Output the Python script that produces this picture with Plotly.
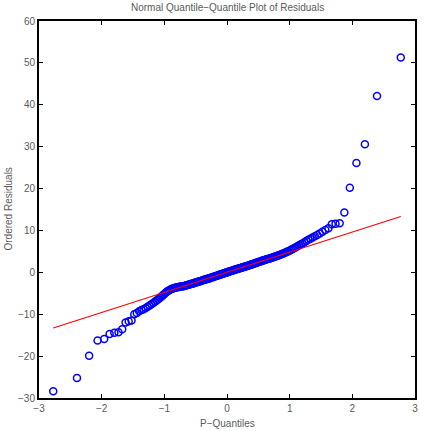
import numpy as np
import plotly.graph_objects as go
from statistics import NormalDist

# Sorted (ordered) residuals
residuals = [
    -28.4, -25.2, -19.9, -16.3, -15.9, -14.7, -14.4, -14.3, -13.6, -12.0,
    -11.7, -11.5, -10.0, -9.7, -9.3, -9.0, -8.8, -8.5, -8.2, -7.9,
    -7.6, -7.3, -7.0, -6.7, -6.4, -6.1, -5.8, -5.5, -5.2, -4.9,
    -4.6, -4.4, -4.2, -4.0, -3.9, -3.8, -3.7, -3.6, -3.55, -3.5,
    -3.45, -3.4, -3.35, -3.3, -3.25, -3.2, -3.1, -3.0, -2.95, -2.9,
    -2.8, -2.75, -2.7, -2.6, -2.5, -2.45, -2.35, -2.3, -2.2, -2.15,
    -2.1, -2.0, -1.95, -1.85, -1.8, -1.7, -1.65, -1.6, -1.5, -1.45,
    -1.4, -1.3, -1.25, -1.15, -1.1, -1.0, -0.95, -0.9, -0.8, -0.75,
    -0.65, -0.6, -0.5, -0.45, -0.4, -0.3, -0.25, -0.15, -0.1, -0.05,
    0.05, 0.1, 0.2, 0.25, 0.3, 0.4, 0.45, 0.5, 0.6, 0.65,
    0.7, 0.8, 0.85, 0.9, 1.0, 1.05, 1.1, 1.2, 1.25, 1.3,
    1.4, 1.45, 1.5, 1.6, 1.65, 1.75, 1.8, 1.9, 1.95, 2.05,
    2.1, 2.2, 2.3, 2.35, 2.45, 2.5, 2.6, 2.7, 2.8, 2.85,
    2.95, 3.0, 3.1, 3.2, 3.25, 3.3, 3.4, 3.5, 3.6, 3.7,
    3.8, 3.9, 4.0, 4.1, 4.2, 4.35, 4.45, 4.6, 4.75, 4.9,
    5.05, 5.2, 5.4, 5.6, 5.8, 6.0, 6.2, 6.45, 6.7, 6.9,
    7.2, 7.5, 7.8, 8.0, 8.3, 8.6, 8.9, 9.3, 9.7, 10.1,
    10.5, 11.5, 11.6, 11.7, 14.3, 20.2, 26.1, 30.6, 42.1, 51.3,
]

x_ticks = [-3, -2, -1, 0, 1, 2, 3]
y_ticks = [-30, -20, -10, 0, 10, 20, 30, 40, 50, 60]

title_text = "Normal Quantile\u2212Quantile Plot of Residuals"
x_label = "P\u2212Quantiles"
y_label = "Ordered Residuals"

# Theoretical normal quantiles (plotting positions (i-0.5)/n)
n = len(residuals)
nd = NormalDist()
theo = [nd.inv_cdf((i + 0.5) / n) for i in range(n)]

# Reference line through the first and third quartiles
y_sorted = np.sort(np.array(residuals))
q1y, q3y = np.percentile(y_sorted, [25, 75])
q1x, q3x = nd.inv_cdf(0.25), nd.inv_cdf(0.75)
slope = (q3y - q1y) / (q3x - q1x)
icpt = q1y - slope * q1x
lx = [min(theo), max(theo)]
ly = [icpt + slope * v for v in lx]

TXT = "#5a5a5a"

fig = go.Figure()
fig.add_trace(go.Scatter(
    x=theo, y=list(y_sorted), mode="markers",
    marker=dict(symbol="circle-open", size=7, color="#0000FF",
                line=dict(width=1.5, color="#0000FF")),
    showlegend=False, hoverinfo="skip"))
fig.add_trace(go.Scatter(
    x=lx, y=ly, mode="lines", line=dict(color="#FF0000", width=1.2),
    showlegend=False, hoverinfo="skip"))

axis_common = dict(
    showgrid=False, zeroline=False, showline=True, linecolor="black",
    linewidth=2, mirror="ticks", ticks="inside", ticklen=4, tickwidth=1,
    tickcolor="black", tickfont=dict(family="Liberation Sans, Arial", size=10, color=TXT),
)

fig.update_layout(
    width=425, height=431,
    margin=dict(l=39, r=7, t=21, b=33),
    paper_bgcolor="white", plot_bgcolor="white",
    xaxis=dict(range=[-3, 3], tickvals=x_ticks, ticktext=[str(v).replace("-", "\u2212") for v in x_ticks], **axis_common),
    yaxis=dict(range=[-30, 60], tickvals=y_ticks, ticktext=[str(v).replace("-", "\u2212") for v in y_ticks], **axis_common),
    font=dict(family="Liberation Sans, Arial", color=TXT),
    annotations=[
        dict(text=title_text, xref="paper", yref="paper", x=0.5, y=1, yshift=14,
             xanchor="center", yanchor="middle", showarrow=False,
             font=dict(size=10, color=TXT)),
        dict(text=x_label, xref="paper", yref="paper", x=0.5, y=0, yshift=-25,
             xanchor="center", yanchor="middle", showarrow=False,
             font=dict(size=10, color=TXT)),
        dict(text=y_label, xref="paper", yref="paper", x=0, y=0.5, xshift=-31,
             xanchor="center", yanchor="middle", textangle=-90, showarrow=False,
             font=dict(size=10, color=TXT)),
    ],
)

fig.write_html("out.html")
